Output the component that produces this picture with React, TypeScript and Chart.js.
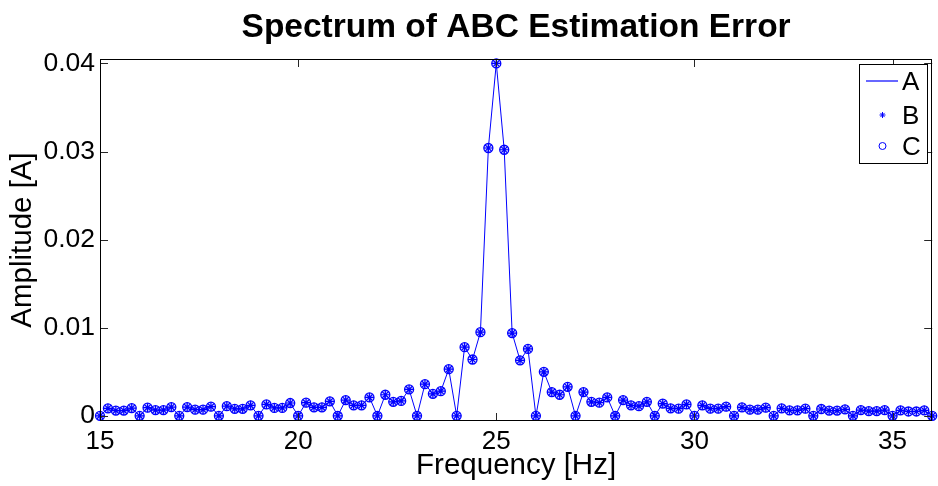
import React, { useEffect, useRef } from "react";
import { Chart, registerables } from "chart.js";

Chart.register(...registerables);

const chartTitle = "Spectrum of ABC Estimation Error";
const xAxisTitle = "Frequency [Hz]";
const yAxisTitle = "Amplitude [A]";
const seriesNames = ["A", "B", "C"];

const frequencies = [
  15.0, 15.2, 15.4, 15.6, 15.8, 16.0, 16.2, 16.4, 16.6, 16.8,
  17.0, 17.2, 17.4, 17.6, 17.8, 18.0, 18.2, 18.4, 18.6, 18.8,
  19.0, 19.2, 19.4, 19.6, 19.8, 20.0, 20.2, 20.4, 20.6, 20.8,
  21.0, 21.2, 21.4, 21.6, 21.8, 22.0, 22.2, 22.4, 22.6, 22.8,
  23.0, 23.2, 23.4, 23.6, 23.8, 24.0, 24.2, 24.4, 24.6, 24.8,
  25.0, 25.2, 25.4, 25.6, 25.8, 26.0, 26.2, 26.4, 26.6, 26.8,
  27.0, 27.2, 27.4, 27.6, 27.8, 28.0, 28.2, 28.4, 28.6, 28.8,
  29.0, 29.2, 29.4, 29.6, 29.8, 30.0, 30.2, 30.4, 30.6, 30.8,
  31.0, 31.2, 31.4, 31.6, 31.8, 32.0, 32.2, 32.4, 32.6, 32.8,
  33.0, 33.2, 33.4, 33.6, 33.8, 34.0, 34.2, 34.4, 34.6, 34.8,
  35.0, 35.2, 35.4, 35.6, 35.8, 36.0,
];

const amplitudes = [
  0.00001, 0.00086, 0.0006, 0.0006, 0.00089, 0.00001, 0.00093, 0.00066, 0.00066, 0.001,
  0.00001, 0.001, 0.0007, 0.0007, 0.00105, 0.00001, 0.0011, 0.0008, 0.0008, 0.0012,
  0.00001, 0.0013, 0.0009, 0.0009, 0.00146, 0.00001, 0.0015, 0.00097, 0.00097, 0.00165,
  0.00001, 0.0018, 0.0012, 0.0012, 0.0021, 0.00001, 0.0024, 0.0016, 0.0017, 0.003,
  0.00001, 0.0036, 0.0025, 0.0028, 0.0053, 0.00001, 0.0078, 0.0064, 0.0095, 0.0304,
  0.04, 0.0302, 0.0094, 0.0063, 0.0076, 0.00001, 0.005, 0.0027, 0.0024, 0.0033,
  0.00001, 0.0027, 0.0016, 0.0015, 0.0021, 0.00001, 0.0018, 0.0012, 0.0011, 0.0016,
  0.00001, 0.0014, 0.00086, 0.00082, 0.0013, 0.00001, 0.0012, 0.00082, 0.00082, 0.00105,
  0.00001, 0.00097, 0.0007, 0.0007, 0.00093, 0.00001, 0.00086, 0.00063, 0.00063, 0.00082,
  0.00001, 0.00078, 0.0006, 0.0006, 0.00074, 0.00001, 0.00066, 0.00055, 0.00055, 0.00066,
  0.00001, 0.00063, 0.0005, 0.0005, 0.00063, 0.00001,
];

const xTickValues = [15, 20, 25, 30, 35];
const xTickLabels = ["15", "20", "25", "30", "35"];
const yTickValues = [0, 0.01, 0.02, 0.03, 0.04];
const yTickLabels = ["0", "0.01", "0.02", "0.03", "0.04"];

const FONT = "'Liberation Sans', Arial, Helvetica, sans-serif";
const BLUE = "#0000ff";

const matlabAxesPlugin = {
  id: "matlabAxes",
  afterDatasetsDraw(chart: any) {
    const { ctx, chartArea } = chart;
    const { left, right, top, bottom } = chartArea;
    const xs = chart.scales.x;
    const ys = chart.scales.y;
    ctx.save();
    // title centred over the axes
    ctx.fillStyle = "#000";
    ctx.font = `bold 33.5px ${FONT}`;
    ctx.textAlign = "center";
    ctx.textBaseline = "alphabetic";
    ctx.fillText(chartTitle, (left + right) / 2, 37);

    // ticks (inward, all four sides)
    ctx.strokeStyle = "#262626";
    ctx.lineWidth = 1;
    const tl = 8;
    xTickValues.forEach((v) => {
      const px = Math.round(xs.getPixelForValue(v)) + 0.5;
      ctx.beginPath();
      ctx.moveTo(px, bottom);
      ctx.lineTo(px, bottom - tl);
      ctx.moveTo(px, top);
      ctx.lineTo(px, top + tl);
      ctx.stroke();
    });
    yTickValues.forEach((v) => {
      const py = Math.round(ys.getPixelForValue(v)) + 0.5;
      ctx.beginPath();
      ctx.moveTo(left, py);
      ctx.lineTo(left + tl, py);
      ctx.moveTo(right, py);
      ctx.lineTo(right - tl, py);
      ctx.stroke();
    });
    // box
    ctx.strokeStyle = "#000";
    ctx.lineWidth = 1;
    ctx.strokeRect(Math.round(left) + 0.5, Math.round(top) + 0.5, Math.round(right - left) - 1, Math.round(bottom - top) - 1);

    // legend
    const lx = Math.round(right) - 73;
    const ly = Math.round(top) + 5;
    const lw = 68;
    const lh = 99;
    ctx.fillStyle = "#fff";
    ctx.fillRect(lx, ly, lw, lh);
    ctx.strokeStyle = "#000";
    ctx.strokeRect(lx + 0.5, ly + 0.5, lw, lh);
    const rows = [ly + 17, ly + 51, ly + 82];
    const names = chart.data.datasets.map((d: any) => d.label);
    // A: line
    ctx.strokeStyle = BLUE;
    ctx.lineWidth = 1.2;
    ctx.beginPath();
    ctx.moveTo(lx + 7, rows[0]);
    ctx.lineTo(lx + 39, rows[0]);
    ctx.stroke();
    // B: asterisk
    ctx.lineWidth = 1;
    const cx = lx + 23.5;
    const r = 3;
    ctx.beginPath();
    ctx.moveTo(cx - r, rows[1]);
    ctx.lineTo(cx + r, rows[1]);
    ctx.moveTo(cx, rows[1] - r);
    ctx.lineTo(cx, rows[1] + r);
    ctx.moveTo(cx - r * 0.7, rows[1] - r * 0.7);
    ctx.lineTo(cx + r * 0.7, rows[1] + r * 0.7);
    ctx.moveTo(cx - r * 0.7, rows[1] + r * 0.7);
    ctx.lineTo(cx + r * 0.7, rows[1] - r * 0.7);
    ctx.stroke();
    // C: circle
    ctx.beginPath();
    ctx.arc(cx, rows[2], 3.5, 0, Math.PI * 2);
    ctx.stroke();
    ctx.fillStyle = "#000";
    ctx.font = `26px ${FONT}`;
    ctx.textBaseline = "middle";
    ctx.textAlign = "left";
    names.forEach((n: string, i: number) => {
      ctx.fillText(n, lx + 43, rows[i] + 2);
    });
    ctx.restore();
  },
};

export default function App() {
  const ref = useRef<HTMLCanvasElement>(null);
  useEffect(() => {
    const canvas = ref.current;
    if (!canvas) return;
    const points = frequencies.map((f, i) => ({ x: f, y: amplitudes[i] }));
    const chart = new Chart(canvas, {
      type: "line",
      data: {
        datasets: [
          {
            label: seriesNames[0],
            data: points,
            borderColor: BLUE,
            borderWidth: 1,
            pointRadius: 0,
            fill: false,
            tension: 0,
            clip: false as any,
          },
          {
            label: seriesNames[1],
            data: points,
            showLine: false,
            pointStyle: "star",
            pointRadius: 4.5,
            borderColor: BLUE,
            backgroundColor: BLUE,
            pointBorderWidth: 1.2,
            clip: false as any,
          },
          {
            label: seriesNames[2],
            data: points,
            showLine: false,
            pointStyle: "circle",
            pointRadius: 4.5,
            borderColor: BLUE,
            backgroundColor: "rgba(0,0,255,0.15)",
            pointBorderWidth: 1.3,
            clip: false as any,
          },
        ],
      },
      options: {
        responsive: false,
        animation: false,
        events: [],
        layout: { padding: { left: 0, right: 5, top: 59, bottom: 0 } },
        plugins: {
          legend: { display: false },
          tooltip: { enabled: false },
          title: { display: false },
        },
        scales: {
          x: {
            type: "linear",
            min: 15,
            max: 36,
            grid: { display: false, drawTicks: false },
            border: { display: false },
            afterBuildTicks: (scale: any) => {
              scale.ticks = xTickValues.map((v) => ({ value: v }));
            },
            afterFit: (scale: any) => {
              scale.height = 65;
            },
            ticks: {
              color: "#000",
              padding: 5,
              maxRotation: 0,
              autoSkip: false,
              font: { family: FONT, size: 26 },
              callback: (v: any) => {
                const i = xTickValues.indexOf(Number(v));
                return i >= 0 ? xTickLabels[i] : "";
              },
            },
            title: {
              display: true,
              text: xAxisTitle,
              color: "#000",
              font: { family: FONT, size: 29.5 },
              padding: { top: 0, bottom: 2 },
            },
          },
          y: {
            type: "linear",
            min: -0.00058,
            max: 0.0405,
            grid: { display: false, drawTicks: false },
            border: { display: false },
            afterBuildTicks: (scale: any) => {
              scale.ticks = yTickValues.map((v) => ({ value: v }));
            },
            afterFit: (scale: any) => {
              scale.width = 100;
            },
            ticks: {
              color: "#000",
              padding: 5,
              autoSkip: false,
              font: { family: FONT, size: 26.5 },
              callback: (v: any) => {
                const i = yTickValues.findIndex((t) => Math.abs(t - Number(v)) < 1e-9);
                return i >= 0 ? yTickLabels[i] : "";
              },
            },
            title: {
              display: true,
              text: yAxisTitle,
              color: "#000",
              font: { family: FONT, size: 29.5 },
              padding: { top: 5, bottom: 0 },
            },
          },
        },
      },
      plugins: [matlabAxesPlugin],
    });
    return () => chart.destroy();
  }, []);
  return (
    <div style={{ position: "fixed", left: 0, top: 0, width: 938, height: 486, background: "#fff" }}>
      <canvas ref={ref} width={938} height={486} style={{ display: "block" }} />
    </div>
  );
}
